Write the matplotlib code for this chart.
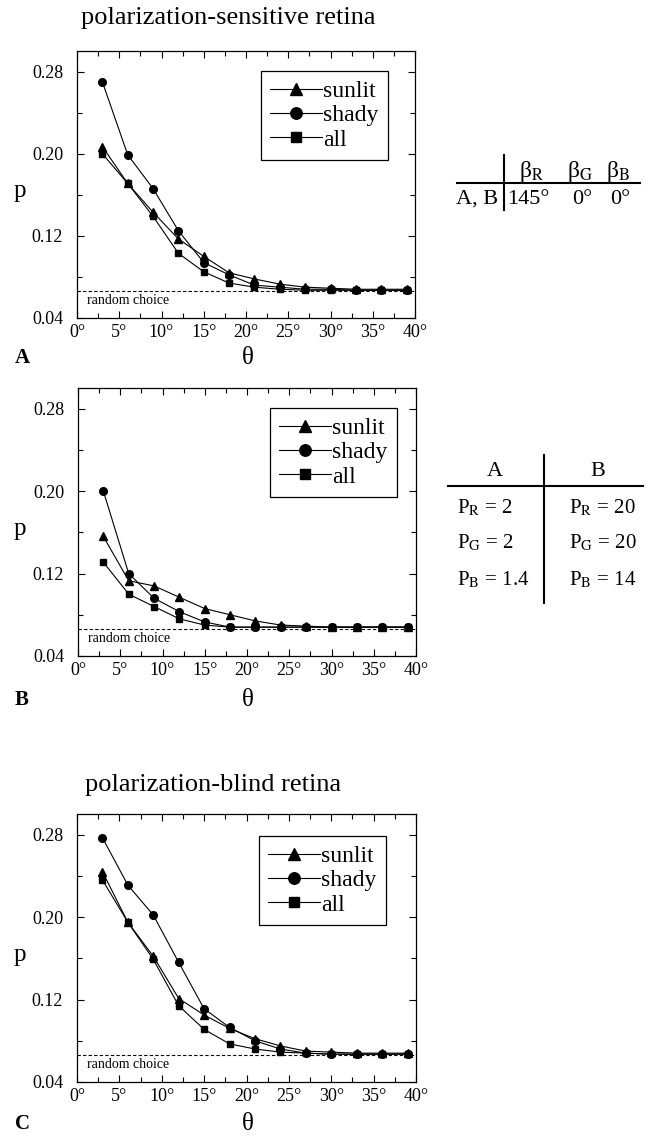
import numpy as np
import matplotlib
matplotlib.use('Agg')
import matplotlib.pyplot as plt

plt.rcParams['font.family'] = ['Liberation Serif', 'DejaVu Serif']
plt.rcParams['mathtext.fontset'] = 'stix'

# data
theta = [3, 6, 9, 12, 15, 18, 21, 24, 27, 30, 33, 36, 39]
random_choice = 1 / 15

a_sunlit = [0.207, 0.171, 0.143, 0.117, 0.100, 0.084, 0.078, 0.073, 0.070, 0.069, 0.068, 0.068, 0.068]
a_shady = [0.270, 0.199, 0.166, 0.125, 0.094, 0.082, 0.072, 0.070, 0.068, 0.068, 0.067, 0.067, 0.067]
a_all = [0.200, 0.171, 0.139, 0.103, 0.085, 0.074, 0.070, 0.068, 0.067, 0.067, 0.067, 0.067, 0.067]

b_sunlit = [0.156, 0.113, 0.108, 0.097, 0.086, 0.080, 0.074, 0.070, 0.069, 0.068, 0.068, 0.068, 0.068]
b_shady = [0.200, 0.120, 0.096, 0.083, 0.073, 0.068, 0.068, 0.068, 0.068, 0.068, 0.068, 0.068, 0.068]
b_all = [0.131, 0.100, 0.088, 0.076, 0.070, 0.068, 0.068, 0.068, 0.068, 0.068, 0.068, 0.068, 0.068]

c_sunlit = [0.244, 0.195, 0.162, 0.121, 0.105, 0.092, 0.082, 0.075, 0.070, 0.069, 0.068, 0.068, 0.068]
c_shady = [0.277, 0.231, 0.202, 0.156, 0.111, 0.093, 0.080, 0.072, 0.068, 0.067, 0.067, 0.067, 0.067]
c_all = [0.236, 0.195, 0.159, 0.114, 0.091, 0.077, 0.072, 0.069, 0.068, 0.067, 0.067, 0.067, 0.067]

yticks = [0.04, 0.12, 0.20, 0.28]
xticks = [0, 5, 10, 15, 20, 25, 30, 35, 40]

W, H = 650, 1136
fig = plt.figure(figsize=(W / 100, H / 100), dpi=100)


def fx(x):
    return x / W


def fy(y):
    return 1 - y / H


def px_axes(x0, y0, x1, y1):
    return fig.add_axes([x0 / W, 1 - y1 / H, (x1 - x0) / W, (y1 - y0) / H])


def panel(box, sunlit, shady, allv, leg_rt, letter, theta_y):
    ax = px_axes(*box)
    ax.plot(theta, sunlit, '-^', color='k', lw=0.8, ms=5.5, label='sunlit')
    ax.plot(theta, shady, '-o', color='k', lw=0.8, ms=5.5, label='shady')
    ax.plot(theta, allv, '-s', color='k', lw=0.8, ms=5, label='all')
    ax.axhline(random_choice, color='k', ls=(0, (3, 2)), lw=0.8)
    ax.text(1.2, random_choice - 0.0035, 'random choice', fontsize=10, va='top')
    ax.set_xlim(0, 40)
    ax.set_ylim(0.04, 0.30)
    ax.set_yticks(yticks)
    ax.set_yticklabels(['%.2f' % v for v in yticks], fontsize=13)
    ax.set_yticks(np.arange(0.04, 0.30, 0.04), minor=True)
    ax.set_xticks(xticks)
    ax.set_xticklabels(['%d°' % v for v in xticks], fontsize=13)
    ax.set_xticks(np.arange(0, 40.1, 2.5), minor=True)
    ax.tick_params(which='both', direction='in', top=True, right=True, width=0.8)
    ax.tick_params(which='major', length=5)
    ax.tick_params(which='minor', length=3.5)
    ax.tick_params(axis='y', which='both', pad=10)
    ax.tick_params(axis='x', which='both', pad=4)
    for s in ax.spines.values():
        s.set_linewidth(0.9)
    yc = (box[1] + box[3]) / 2 + 7
    fig.text(fx(20), fy(yc), 'p', fontsize=18, ha='center', va='center')
    leg = ax.legend(loc='upper right', bbox_to_anchor=(fx(leg_rt[0]), fy(leg_rt[1])),
                    bbox_transform=fig.transFigure, borderaxespad=0, fontsize=17,
                    fancybox=False, edgecolor='k', framealpha=1, markerscale=1.5,
                    handlelength=2.2, handletextpad=0.05, labelspacing=0.12,
                    borderpad=0.4)
    leg.get_frame().set_linewidth(0.9)
    fig.text(fx(15), fy(theta_y), letter, fontsize=15, fontweight='bold', va='center')
    fig.text(fx(248), fy(theta_y), 'θ', fontsize=18, va='center', ha='center')
    return ax


panel((77, 51, 415, 318), a_sunlit, a_shady, a_all, (388, 71), 'A', 358)
panel((78, 388, 416, 656), b_sunlit, b_shady, b_all, (397, 408), 'B', 700)
panel((77, 814, 416, 1082), c_sunlit, c_shady, c_all, (386, 836), 'C', 1124)

fig.text(fx(228), fy(18), 'polarization-sensitive retina', fontsize=19, ha='center', va='center')
fig.text(fx(213), fy(785), 'polarization-blind retina', fontsize=19, ha='center', va='center')

# table of beta angles
beta_heads = [r'β$_{\mathrm{R}}$', r'β$_{\mathrm{G}}$', r'β$_{\mathrm{B}}$']
beta_vals = ['145°', '0°', '0°']
head_x = [532, 580, 618]
val_x = [528, 582, 620]
for hx, vx, hd, bv in zip(head_x, val_x, beta_heads, beta_vals):
    fig.text(fx(hx), fy(172), hd, fontsize=17, ha='center', va='center')
    fig.text(fx(vx), fy(199), bv, fontsize=16, ha='center', va='center')
fig.text(fx(477), fy(199), 'A, B', fontsize=16, ha='center', va='center')
fig.add_artist(plt.Line2D([fx(504), fx(504)], [fy(155), fy(210)], color='k', lw=1.5))
fig.add_artist(plt.Line2D([fx(457), fx(640)], [fy(183), fy(183)], color='k', lw=1.5))

# table of polarization sensitivities
p_names = [r'P$_{\mathrm{R}}$', r'P$_{\mathrm{G}}$', r'P$_{\mathrm{B}}$']
p_a = ['2', '2', '1.4']
p_b = ['20', '20', '14']
row_y = [508, 543, 580]
fig.text(fx(495), fy(471), 'A', fontsize=16, ha='center', va='center')
fig.text(fx(598), fy(471), 'B', fontsize=16, ha='center', va='center')
for ry, nm, va_, vb_ in zip(row_y, p_names, p_a, p_b):
    fig.text(fx(457), fy(ry), nm + ' = ' + va_, fontsize=15, ha='left', va='center')
    fig.text(fx(569), fy(ry), nm + ' = ' + vb_, fontsize=15, ha='left', va='center')
fig.add_artist(plt.Line2D([fx(544), fx(544)], [fy(455), fy(603)], color='k', lw=1.5))
fig.add_artist(plt.Line2D([fx(448), fx(643)], [fy(486), fy(486)], color='k', lw=1.5))

fig.savefig('out.png', dpi=100)
